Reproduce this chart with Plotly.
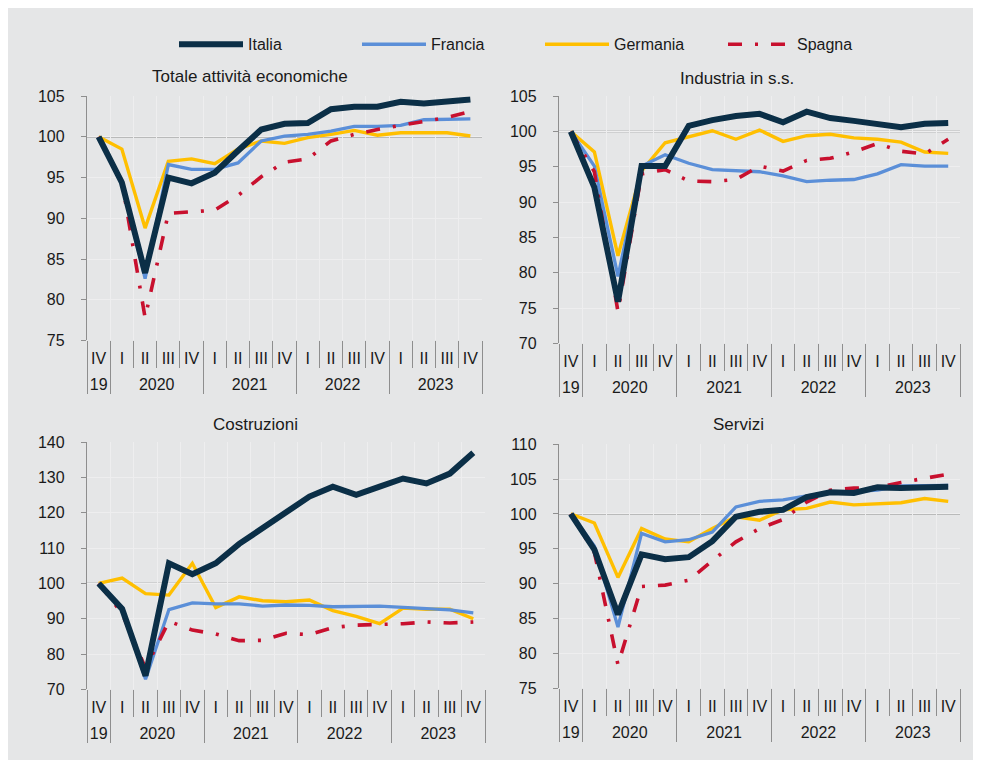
"""Indici di attività per settore (IV trim. 2019 = 100): Italia, Francia, Germania, Spagna."""
import plotly.graph_objects as go
from plotly.subplots import make_subplots

# asse x: trimestre e anno
ANNI = ["19", "2020", "2020", "2020", "2020", "2021", "2021", "2021", "2021",
        "2022", "2022", "2022", "2022", "2023", "2023", "2023", "2023"]
TRIMESTRI = ["IV", "I", "II", "III", "IV", "I", "II", "III", "IV",
             "I", "II", "III", "IV", "I", "II", "III", "IV"]

# Totale attività economiche
TOT_ITALIA = [100, 94.4, 83.3, 95.0, 94.3, 95.6, 98.3, 100.9, 101.6, 101.7, 103.4, 103.7, 103.7, 104.3, 104.1, 104.4, 104.6]
TOT_FRANCIA = [100, 94.6, 82.6, 96.6, 96.0, 96.0, 96.8, 99.5, 100.1, 100.3, 100.7, 101.3, 101.3, 101.4, 102.1, 102.2, 102.2]
TOT_GERMANIA = [100, 98.5, 88.8, 97.0, 97.3, 96.7, 98.5, 99.5, 99.2, 99.9, 100.3, 100.8, 100.2, 100.5, 100.5, 100.5, 100.1]
TOT_SPAGNA = [100, 94.6, 77.8, 90.6, 90.8, 91.0, 92.8, 95.1, 96.9, 97.3, 99.5, 100.3, 100.9, 101.4, 102.0, 102.4, 103.1]

# Industria in senso stretto
IND_ITALIA = [100, 92.1, 75.9, 95.1, 95.1, 100.8, 101.6, 102.2, 102.5, 101.3, 102.8, 101.9, 101.5, 101.0, 100.6, 101.1, 101.2]
IND_FRANCIA = [100, 95.1, 79.5, 95.1, 96.7, 95.5, 94.6, 94.5, 94.3, 93.7, 92.9, 93.1, 93.2, 94.0, 95.3, 95.1, 95.1]
IND_GERMANIA = [100, 97.1, 82.4, 94.4, 98.4, 99.2, 100.1, 98.9, 100.2, 98.6, 99.4, 99.6, 99.1, 98.9, 98.5, 97.1, 96.9]
IND_SPAGNA = [100, 94.3, 74.5, 94.0, 94.6, 93.0, 92.9, 93.2, 95.1, 94.4, 95.9, 96.2, 97.1, 98.3, 97.2, 96.8, 98.9]

# Costruzioni
COS_ITALIA = [100, 92.8, 73.9, 105.7, 102.6, 105.7, 111.2, 115.8, 120.4, 124.6, 127.4, 125.1, 127.4, 129.7, 128.3, 131.1, 137.0]
COS_FRANCIA = [100, 93.2, 72.9, 92.6, 94.5, 94.2, 94.2, 93.6, 93.9, 93.8, 93.4, 93.6, 93.6, 93.2, 92.9, 92.5, 91.7]
COS_GERMANIA = [100, 101.5, 97.1, 96.7, 105.7, 93.2, 96.2, 95.1, 94.8, 95.3, 92.3, 90.7, 88.6, 93.0, 92.7, 92.7, 90.0]
COS_SPAGNA = [100, 91.5, 76.0, 89.3, 86.8, 85.7, 83.8, 83.9, 85.9, 85.5, 87.5, 88.2, 88.4, 88.6, 89.1, 88.8, 89.1]

# Servizi
SER_ITALIA = [100, 94.9, 85.6, 94.2, 93.5, 93.8, 96.1, 99.6, 100.3, 100.6, 102.4, 103.1, 103.0, 103.8, 103.7, 103.9, 103.9]
SER_FRANCIA = [100, 95.4, 83.8, 97.2, 96.0, 96.3, 97.4, 101.0, 101.8, 102.0, 102.6, 103.1, 103.2, 103.4, 104.0, 104.1, 104.1]
SER_GERMANIA = [100, 98.7, 90.9, 97.9, 96.4, 96.0, 97.9, 99.6, 99.1, 100.6, 100.8, 101.7, 101.3, 101.5, 101.6, 102.2, 101.8]
SER_SPAGNA = [100, 94.5, 78.4, 89.6, 89.8, 90.5, 93.3, 96.0, 97.9, 99.2, 101.7, 103.4, 103.7, 103.8, 104.5, 105.1, 105.7]

PANNELLI = [
    ('Totale attività economiche', (75, 105), 5,
     {'Italia': TOT_ITALIA, 'Francia': TOT_FRANCIA, 'Germania': TOT_GERMANIA, 'Spagna': TOT_SPAGNA}),
    ('Industria in s.s.', (70, 105), 5,
     {'Italia': IND_ITALIA, 'Francia': IND_FRANCIA, 'Germania': IND_GERMANIA, 'Spagna': IND_SPAGNA}),
    ('Costruzioni', (70, 140), 10,
     {'Italia': COS_ITALIA, 'Francia': COS_FRANCIA, 'Germania': COS_GERMANIA, 'Spagna': COS_SPAGNA}),
    ('Servizi', (75, 110), 5,
     {'Italia': SER_ITALIA, 'Francia': SER_FRANCIA, 'Germania': SER_GERMANIA, 'Spagna': SER_SPAGNA}),
]

STILI = {
    'Italia':   (dict(color='#0b2f47', width=6), 1),
    'Francia':  (dict(color='#5b8fd8', width=3.3), 2),
    'Germania': (dict(color='#ffbf00', width=3.4), 3),
    'Spagna':   (dict(color='#c8102e', width=3.6, dash='14px,13px,3px,13px'), 4),
}
ORDINE = ['Germania', 'Francia', 'Spagna', 'Italia']  # ordine di disegno

SFONDO = '#e5e6e7'
GRIGLIA = '#eeeeef'
ASSE = '#8e8e8e'
TESTO = '#1a1a1a'
# la pagina ha 8 px di margine: la figura parte da (8, 8) e non deve sforare
W, H = 965, 752

# posizioni dei trimestri sull'asse, confini dei trimestri e degli anni
POS = list(range(len(TRIMESTRI)))
CONFINI_TRIM = [p - 0.5 for p in POS] + [POS[-1] + 0.5]
ETICHETTE_ANNI = list(dict.fromkeys(ANNI))
CENTRI_ANNI = [sum(p for p, a in zip(POS, ANNI) if a == e) / ANNI.count(e) for e in ETICHETTE_ANNI]
CONFINI_ANNI = [-0.5] + [p - 0.5 for p in POS[1:] if ANNI[p] != ANNI[p - 1]] + [POS[-1] + 0.5]
XR = [-0.5, POS[-1] + 0.5]

fig = make_subplots(rows=2, cols=2, subplot_titles=[p[0] for p in PANNELLI])

for k, (titolo, yr, dt, serie) in enumerate(PANNELLI):
    sfx = '' if k == 0 else str(k + 1)
    for paese in ORDINE:
        linea, rank = STILI[paese]
        # l'Italia (in primo piano) va sull'asse sovrapposto degli anni
        xa = 'x' + str(k + 5) if paese == 'Italia' else 'x' + sfx
        fig.add_trace(go.Scatter(
            x=POS, y=serie[paese], name=paese, mode='lines',
            line=linea, legendgroup=paese, legendrank=rank,
            showlegend=(k == 0), xaxis=xa, yaxis='y' + sfx,
        ))
    fig.add_shape(type='line', xref='x' + sfx + ' domain', yref='y' + sfx,
                  x0=0, x1=1, y0=100, y1=100, layer='below',
                  line=dict(color=ASSE, width=1.3))
    fig.layout['yaxis' + sfx].update(range=list(yr), dtick=dt)

# asse dei trimestri (quello dei dati)
fig.update_xaxes(
    type='linear', range=XR, tickmode='array', tickvals=POS, ticktext=TRIMESTRI,
    ticks='', showgrid=False, showline=False, zeroline=False, ticklabelstandoff=7,
    tickfont=dict(size=16, color=TESTO),
    minor=dict(tickmode='array', tickvals=CONFINI_TRIM, ticks='outside', ticklen=27,
               tickcolor=ASSE, tickwidth=1.3, showgrid=True, gridcolor=GRIGLIA, gridwidth=1),
)
fig.update_yaxes(
    showline=True, linecolor=ASSE, linewidth=1.3, ticks='outside', ticklen=5,
    tickcolor=ASSE, showgrid=True, gridcolor=GRIGLIA, gridwidth=1, zeroline=False,
    ticklabelstandoff=13, tickfont=dict(size=16, color=TESTO),
)


def dom(a, b, tot):
    return [a / tot, b / tot]


# posizioni dei pannelli (pixel della figura)
X_DOM = [dom(79, 474, W), dom(551, 952, W), dom(79, 477, W), dom(551, 952, W)]
Y_DOM = [dom(H - 332, H - 82, H), dom(H - 335, H - 82, H),
         dom(H - 689, H - 436, H), dom(H - 688, H - 438, H)]

for k in range(4):
    sfx = '' if k == 0 else str(k + 1)
    fig.layout['xaxis' + sfx].domain = X_DOM[k]
    fig.layout['yaxis' + sfx].domain = Y_DOM[k]
    # asse sovrapposto con gli anni
    fig.layout['xaxis' + str(k + 5)] = dict(
        type='linear', overlaying='x' + sfx, anchor='y' + sfx, domain=X_DOM[k], range=XR,
        tickmode='array', tickvals=CENTRI_ANNI, ticktext=ETICHETTE_ANNI, ticks='',
        showgrid=False, showline=False, zeroline=False, ticklabelstandoff=33,
        tickfont=dict(size=16, color=TESTO), side='bottom',
        minor=dict(tickmode='array', tickvals=CONFINI_ANNI, ticks='outside', ticklen=53,
                   tickcolor=ASSE, tickwidth=1.3, showgrid=False),
    )

# titoli dei pannelli
for ann, (cx, cy) in zip(fig.layout.annotations, [(242, 62), (729, 64), (247, 418), (730, 418)]):
    ann.update(x=cx / W, y=1 - cy / H, xanchor='center', yanchor='middle',
               font=dict(size=17, color=TESTO))

fig.update_layout(
    width=W, height=H,
    paper_bgcolor=SFONDO, plot_bgcolor=SFONDO,
    font=dict(family='Liberation Sans, Arial, sans-serif', color=TESTO, size=16),
    margin=dict(l=0, r=0, t=0, b=0),
    legend=dict(orientation='h', x=532 / W, xanchor='center', y=1 - 29 / H, yanchor='middle',
                bgcolor='rgba(0,0,0,0)', font=dict(size=16), itemwidth=64,
                entrywidth=104),
)

fig.write_html("out.html")
